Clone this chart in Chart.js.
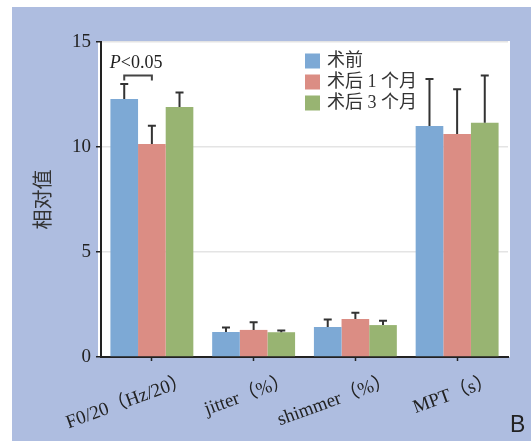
<!DOCTYPE html>
<html>
<head>
<meta charset="utf-8">
<script src="https://cdn.jsdelivr.net/npm/chart.js@4/dist/chart.umd.min.js"></script>
<style>
  html, body { margin: 0; padding: 0; background: #fff; }
  #wrap { width: 531px; height: 442px; }
</style>
</head>
<body>
<div id="wrap"><canvas id="chart" width="531" height="442"></canvas></div>
<script>
const categories = ['F0/20（Hz/20）', 'jitter（%）', 'shimmer（%）', 'MPT（s）'];
const seriesNames = ['术前', '术后 1 个月', '术后 3 个月'];
const preOp = [12.29, 1.19, 1.43, 11.0];
const month1 = [10.14, 1.29, 1.81, 10.62];
const month3 = [11.9, 1.18, 1.52, 11.16];
const preOpSd = [0.71, 0.22, 0.35, 2.24];
const month1Sd = [0.87, 0.36, 0.30, 2.13];
const month3Sd = [0.70, 0.08, 0.21, 2.24];
const yTicks = [0, 5, 10, 15];
const sigLabel = 'P<0.05';
const sigLevel = 13.4;

const colors = ['#7da9d5', '#db8d84', '#98b472'];
const serif = '"Liberation Serif", "Noto Sans CJK SC", serif';

const backgroundPlugin = {
    id: 'panels',
    beforeDraw(chart) {
        const ctx = chart.ctx;
        const a = chart.chartArea;
        ctx.save();
        ctx.fillStyle = '#ffffff';
        ctx.fillRect(0, 0, chart.width, chart.height);
        ctx.fillStyle = '#aebde0';
        ctx.fillRect(12, 7, chart.width - 12, chart.height - 8);
        ctx.fillStyle = '#ffffff';
        ctx.fillRect(a.left - 3, a.top - 1, a.right - a.left + 5, a.bottom - a.top + 1);
        ctx.restore();
    }
};

const extrasPlugin = {
    id: 'extras',
    afterDatasetsDraw(chart) {
        const ctx = chart.ctx;
        const y = chart.scales.y;
        ctx.save();
        // error bars
        ctx.strokeStyle = '#333';
        ctx.lineWidth = 2;
        chart.data.datasets.forEach((ds, di) => {
            const meta = chart.getDatasetMeta(di);
            meta.data.forEach((bar, i) => {
                const top = y.getPixelForValue(ds.data[i] + ds.sd[i]);
                ctx.beginPath();
                ctx.moveTo(bar.x, bar.y);
                ctx.lineTo(bar.x, top);
                ctx.moveTo(bar.x - 4, top);
                ctx.lineTo(bar.x + 4, top);
                ctx.stroke();
            });
        });
        // significance bracket
        const b0 = chart.getDatasetMeta(0).data[0];
        const b1 = chart.getDatasetMeta(1).data[0];
        const by = y.getPixelForValue(sigLevel);
        ctx.strokeStyle = '#444';
        ctx.beginPath();
        ctx.moveTo(b0.x, by + 5);
        ctx.lineTo(b0.x, by);
        ctx.lineTo(b1.x, by);
        ctx.lineTo(b1.x, by + 5);
        ctx.stroke();
        ctx.fillStyle = '#222';
        ctx.textBaseline = 'alphabetic';
        ctx.font = 'italic 18px ' + serif;
        const pW = ctx.measureText(sigLabel[0]).width;
        ctx.font = '18px ' + serif;
        const restW = ctx.measureText(sigLabel.slice(1)).width;
        const sx = (b0.x + b1.x) / 2 - (pW + restW) / 2 - 2;
        ctx.font = 'italic 18px ' + serif;
        ctx.fillText(sigLabel[0], sx, by - 8);
        ctx.font = '18px ' + serif;
        ctx.fillText(sigLabel.slice(1), sx + pW, by - 8);
        // legend
        ctx.font = '18px ' + serif;
        ctx.textBaseline = 'middle';
        chart.data.datasets.forEach((ds, di) => {
            const cy = 61 + di * 21;
            ctx.fillStyle = ds.backgroundColor;
            ctx.fillRect(305, cy - 7.5, 15, 15);
            ctx.fillStyle = '#333';
            ctx.fillText(ds.label, 327, cy);
        });
        // panel letter
        ctx.font = '23px "Liberation Sans", sans-serif';
        ctx.textBaseline = 'alphabetic';
        ctx.fillStyle = '#222';
        ctx.fillText('B', 510, 432);
        ctx.restore();
    }
};

new Chart(document.getElementById('chart'), {
    type: 'bar',
    data: {
        labels: categories,
        datasets: [
            { label: seriesNames[0], data: preOp, sd: preOpSd, backgroundColor: colors[0] },
            { label: seriesNames[1], data: month1, sd: month1Sd, backgroundColor: colors[1] },
            { label: seriesNames[2], data: month3, sd: month3Sd, backgroundColor: colors[2] }
        ]
    },
    options: {
        responsive: false,
        animation: false,
        events: [],
        layout: { padding: { top: 42, right: 23, bottom: 0, left: 0 } },
        datasets: {
            bar: { categoryPercentage: 0.815, barPercentage: 1.0, borderWidth: 0 }
        },
        plugins: {
            legend: { display: false },
            tooltip: { enabled: false }
        },
        scales: {
            x: {
                grid: {
                    offset: false,
                    color: 'rgba(0,0,0,0)',
                    drawOnChartArea: false,
                    tickColor: '#222',
                    tickLength: 4,
                    tickWidth: 1.5
                },
                border: { color: '#222', width: 2 },
                ticks: {
                    color: '#222',
                    font: { family: serif, size: 19 },
                    minRotation: 20,
                    maxRotation: 20,
                    labelOffset: 36,
                    padding: 8,
                    autoSkip: false
                },
                afterFit(scale) { scale.height = 85; }
            },
            y: {
                min: 0,
                max: 15,
                afterBuildTicks(scale) { scale.ticks = yTicks.map(v => ({ value: v })); },
                grid: {
                    color: '#e4e4e4',
                    lineWidth: 1.5,
                    tickColor: '#222',
                    tickLength: 5,
                    tickWidth: 1.5
                },
                border: { color: '#222', width: 2 },
                ticks: {
                    color: '#222',
                    font: { family: serif, size: 19 },
                    padding: 5
                },
                title: {
                    display: true,
                    text: '相对值',
                    color: '#333',
                    font: { family: '"Noto Sans CJK SC", sans-serif', size: 20 },
                    padding: { top: 30, bottom: 0 }
                },
                afterFit(scale) { scale.width = 101; }
            }
        }
    },
    plugins: [backgroundPlugin, extrasPlugin]
});
</script>
</body>
</html>
